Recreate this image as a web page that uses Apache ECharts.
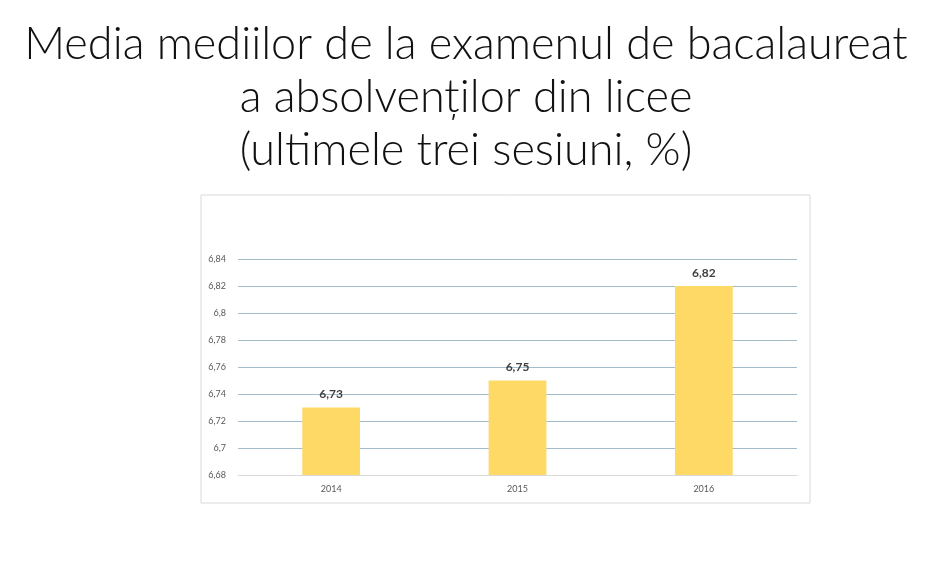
<!DOCTYPE html>
<html lang="ro">
<head>
    <meta charset="UTF-8">
    <title>Media mediilor de la examenul de bacalaureat</title>
    <script src="https://cdn.jsdelivr.net/npm/echarts@6/dist/echarts.min.js"></script>
    <style>
        html, body { margin: 0; padding: 0; background: #fff; }
        #container { width: 930px; height: 570px; }
    </style>
</head>
<body>
<div id="container"></div>
<script type="text/javascript">
    // date
    var titleLines = ['Media mediilor de la examenul de bacalaureat', 'a absolvenților din licee', '(ultimele trei sesiuni, %)'];
    var years = ['2014', '2015', '2016'];
    var averages = [6.73, 6.75, 6.82];
    var yMin = 6.68, yMax = 6.84, yStep = 0.02;

    function comma(v) {
        return String(+(+v).toFixed(2)).replace('.', ',');
    }

    var myChart = echarts.init(document.getElementById('container'));
    var option = {
        backgroundColor: '#fff',
        animation: false,
        title: {
            text: titleLines.join('\n'),
            left: 461,
            top: 13,
            textAlign: 'center',
            textStyle: {
                fontFamily: 'Lato',
                fontWeight: 300,
                fontSize: 45,
                lineHeight: 53,
                color: '#111'
            }
        },
        graphic: [{
            type: 'rect',
            shape: { x: 201, y: 195, width: 609, height: 308 },
            style: { fill: 'none', stroke: '#d9d9d9', lineWidth: 1 },
            silent: true
        }],
        grid: { left: 238, right: 133, top: 259, bottom: 95 },
        xAxis: {
            type: 'category',
            data: years,
            axisLine: { lineStyle: { color: '#d9d9d9' } },
            axisTick: { show: false },
            axisLabel: { color: '#595959', fontSize: 9, fontFamily: 'Lato', margin: 10 }
        },
        yAxis: {
            type: 'value',
            min: yMin,
            max: yMax,
            interval: yStep,
            axisLine: { show: false },
            axisTick: { show: false },
            axisLabel: {
                color: '#595959', fontSize: 9, fontFamily: 'Lato', margin: 12,
                formatter: comma
            },
            splitLine: { lineStyle: { color: '#a3bccb', width: 1 } }
        },
        series: [{
            type: 'bar',
            data: averages,
            barWidth: '31%',
            itemStyle: { color: '#ffd966' },
            label: {
                show: true,
                position: 'top',
                distance: 7,
                color: '#404040',
                fontWeight: 'bold',
                fontSize: 12,
                fontFamily: 'Lato',
                formatter: function (p) { return comma(p.value); }
            }
        }]
    };
    myChart.setOption(option);
</script>
</body>
</html>
